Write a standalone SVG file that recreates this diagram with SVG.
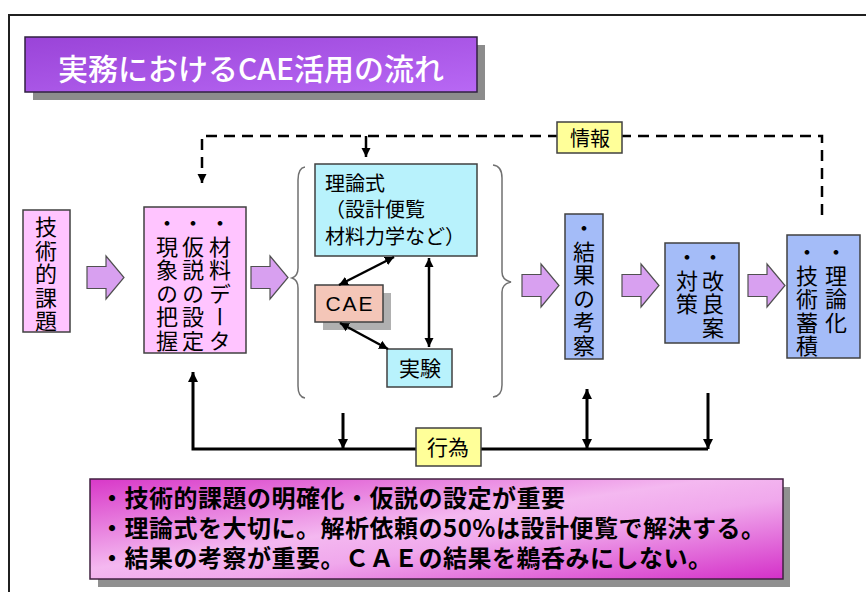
<svg xmlns="http://www.w3.org/2000/svg" width="866" height="592" viewBox="0 0 866 592">
<defs>
<linearGradient id="gTitle" x1="0" y1="0" x2="1" y2="1">
<stop offset="0" stop-color="#9a44d8"/>
<stop offset="1" stop-color="#b868f4"/>
</linearGradient>
<linearGradient id="gNote" x1="0" y1="0" x2="1" y2="1">
<stop offset="0" stop-color="#d838c8"/>
<stop offset="0.45" stop-color="#f4b8f0"/>
<stop offset="0.6" stop-color="#f0a8ec"/>
<stop offset="1" stop-color="#d430c8"/>
</linearGradient>
<marker id="ah" viewBox="0 0 10 10" refX="10" refY="5" markerWidth="10" markerHeight="10" markerUnits="userSpaceOnUse" orient="auto-start-reverse">
<path d="M0,0 L10,5 L0,10 z" fill="#000"/>
</marker>
<marker id="ahs" viewBox="0 0 10 10" refX="10" refY="5" markerWidth="9" markerHeight="10" markerUnits="userSpaceOnUse" orient="auto-start-reverse">
<path d="M0,0 L10,5 L0,10 z" fill="#000"/>
</marker>
<path id="blk" d="M0,-11 L19,-11 L19,-21.5 L37,0 L19,21.5 L19,11 L0,11 z"/>
</defs>
<style>
.jp{font-family:"Noto Sans CJK JP","Noto Sans",sans-serif;fill:#000}
.v{font-family:"Noto Sans CJK JP",sans-serif;font-size:22px;writing-mode:vertical-rl;letter-spacing:1.5px;fill:#000}
.box{stroke:#404040;stroke-width:1.5}
.pink{fill:#ffc4ff}
.blue{fill:#a4bcf8}
.cyan{fill:#b8f2fc}
.yel{fill:#ffff99;stroke:#404040;stroke-width:1.5}
.barr{fill:#d8a0f0;stroke:#505050;stroke-width:1.2}
.con{fill:none;stroke:#000;stroke-width:3}
.brace{fill:none;stroke:#707070;stroke-width:1.5}
</style>

<!-- frame -->
<path d="M9,592 L9,15 L866,15" fill="none" stroke="#202020" stroke-width="2"/>

<!-- title -->
<g id="title">
<rect x="33" y="45" width="452" height="55" fill="#8c8c8c"/>
<rect x="25" y="37" width="452" height="55" fill="url(#gTitle)" stroke="#302040" stroke-width="1.5"/>
<text x="251" y="80" text-anchor="middle" class="jp" style="fill:#fff;font-size:30px;font-weight:500">実務におけるCAE活用の流れ</text>
</g>

<!-- block arrows -->
<g id="flow-arrows">
<use href="#blk" class="barr" transform="translate(87,277.5)"/>
<use href="#blk" class="barr" transform="translate(251,277.5)"/>
<use href="#blk" class="barr" transform="translate(522,285.5)"/>
<use href="#blk" class="barr" transform="translate(622,285.5)"/>
<use href="#blk" class="barr" transform="translate(748,285.5)"/>
</g>

<g id="n-kadai">
<rect x="23" y="210" width="47" height="122" class="box pink"/>
<text x="46" y="216" class="v">技術的課題</text>
</g>

<g id="n-kasetsu">
<rect x="144" y="207" width="102" height="146" class="box pink"/>
<text x="220" y="212" class="v">・材料データ</text>
<text x="193" y="212" class="v">・仮説の設定</text>
<text x="167" y="212" class="v">・現象の把握</text>
</g>

<g id="braces">
<path class="brace" d="M305,167 Q298,168 298,180 L298,268 Q298,276 292,278 Q298,280 298,288 L298,386 Q298,397 305,398"/>
<path class="brace" d="M493,165 Q502,166 502,178 L502,272 Q502,280 511,282 Q502,284 502,292 L502,385 Q502,396 493,397"/>
</g>

<g id="n-riron">
<rect x="315" y="164" width="162" height="92" class="box cyan"/>
<text class="jp" style="font-size:20px"><tspan x="325" y="191">理論式</tspan><tspan x="325" y="217">（設計便覧</tspan><tspan x="325" y="244">材料力学など）</tspan></text>
</g>

<g id="n-cae">
<rect x="323" y="293" width="68" height="37" fill="#b0b0b0"/>
<rect x="315" y="285" width="68" height="37" class="box" fill="#f4c6b8"/>
<text x="350" y="311" text-anchor="middle" style="font-family:'Liberation Sans',Arial,sans-serif;font-size:21px;letter-spacing:2px">CAE</text>
</g>

<g id="n-jikken">
<rect x="387" y="349" width="65" height="38" class="box cyan"/>
<text x="420" y="376" text-anchor="middle" class="jp" style="font-size:21px">実験</text>
</g>

<g id="n-kousatsu">
<rect x="565" y="214" width="38" height="145" class="box blue"/>
<text x="584" y="217" class="v">・結果の考察</text>
</g>

<g id="n-kairyou">
<rect x="665" y="243" width="74" height="100" class="box blue"/>
<text x="713" y="246" class="v">・改良案</text>
<text x="687" y="246" class="v">・対策</text>
</g>

<g id="n-rironka">
<rect x="787" y="235" width="73" height="123" class="box blue"/>
<text x="836" y="241" class="v">・理論化</text>
<text x="807" y="241" class="v">・技術蓄積</text>
</g>

<g id="connectors">
<path class="con" d="M822,215 L822,136 L202,136 L202,183" stroke-dasharray="11,7" style="stroke-width:2.5" marker-end="url(#ahs)"/>
<path class="con" d="M366,136 L366,157" style="stroke-width:2.5" marker-end="url(#ahs)"/>
<path class="con" d="M339,285 L394,257" style="stroke-width:2.5" marker-start="url(#ahs)" marker-end="url(#ahs)"/>
<path class="con" d="M340,323 L388,349" style="stroke-width:2.5" marker-start="url(#ahs)" marker-end="url(#ahs)"/>
<path class="con" d="M429,258 L429,347" style="stroke-width:2.5" marker-start="url(#ahs)" marker-end="url(#ahs)"/>
<path class="con" d="M193,372 L193,449 L708,449" marker-start="url(#ah)"/>
<path class="con" d="M343,413 L343,449" marker-end="url(#ah)"/>
<path class="con" d="M587,389 L587,449" marker-start="url(#ah)" marker-end="url(#ah)"/>
<path class="con" d="M708,393 L708,449" marker-end="url(#ah)"/>
</g>

<g id="l-jouhou">
<rect x="557" y="122" width="65" height="31" class="yel"/>
<text x="590" y="146" text-anchor="middle" class="jp" style="font-size:20px">情報</text>
</g>

<g id="l-koui">
<rect x="416" y="428" width="65" height="38" class="yel"/>
<text x="448" y="455" text-anchor="middle" class="jp" style="font-size:21px">行為</text>
</g>

<g id="note">
<rect x="98" y="487" width="692" height="100" fill="#909090"/>
<rect x="90" y="479" width="693" height="100" fill="url(#gNote)" stroke="#402040" stroke-width="1.5"/>
<text class="jp" style="font-size:24px;font-weight:700;letter-spacing:0.5px"><tspan x="100" y="507">・技術的課題の明確化・仮説の設定が重要</tspan><tspan x="100" y="537">・理論式を大切に。解析依頼の50%は設計便覧で解決する。</tspan><tspan x="100" y="567">・結果の考察が重要。ＣＡＥの結果を鵜呑みにしない。</tspan></text>
</g>
</svg>
